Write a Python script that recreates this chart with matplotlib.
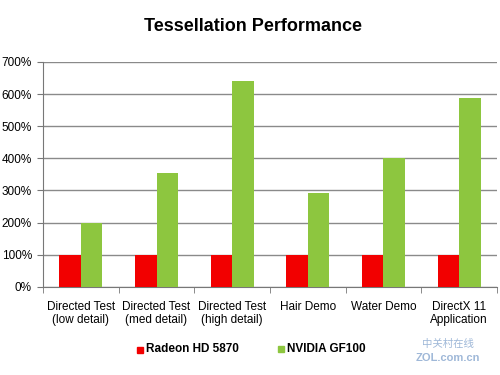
import numpy as np
import matplotlib

matplotlib.use("Agg")
import matplotlib.pyplot as plt

plt.rcParams["font.family"] = ["Liberation Sans", "DejaVu Sans"]

categories = ["Directed Test\n(low detail)", "Directed Test\n(med detail)",
              "Directed Test\n(high detail)", "Hair Demo", "Water Demo",
              "DirectX 11\nApplication"]
radeon = [100, 100, 100, 100, 100, 100]
nvidia = [200, 354, 641, 293, 400, 587]
yticks = [0, 100, 200, 300, 400, 500, 600, 700]

RED = "#f20000"
GREEN = "#8dc63f"

fig = plt.figure(figsize=(5.0, 3.75), dpi=100, facecolor="white")
ax = fig.add_axes([0.086, 0.235, 0.908, 0.6])

x = np.arange(len(categories))
w = 0.285
ax.bar(x - w / 2, radeon, w, color=RED, zorder=3, label="Radeon HD 5870")
ax.bar(x + w / 2, nvidia, w, color=GREEN, zorder=3, label="NVIDIA GF100")

ax.set_xlim(-0.5, len(categories) - 0.5)
ax.set_ylim(0, 700)
ax.set_yticks(yticks)
ax.set_yticklabels([f"{v}%" for v in yticks], fontsize=8.5)
ax.yaxis.grid(True, color="#8a8a8a", lw=1.0, zorder=0)
ax.set_axisbelow(True)

# category labels centered, tick marks at boundaries
ax.set_xticks(x)
ax.set_xticklabels(categories, fontsize=8.5, linespacing=1.15)
ax.tick_params(axis="x", length=0, pad=10)
ax.set_xticks(np.arange(len(categories) + 1) - 0.5, minor=True)
ax.tick_params(axis="x", which="minor", length=4, color="#777777", direction="out")
ax.tick_params(axis="y", length=4, color="#777777", pad=4)

for s in ("top", "right"):
    ax.spines[s].set_visible(False)
ax.spines["left"].set_color("#777777")
ax.spines["bottom"].set_color("#777777")

fig.text(0.505, 0.93, "Tessellation Performance", ha="center", va="center",
         fontsize=13, fontweight="bold")

# legend
fig.patches.append(plt.Rectangle((0.274, 0.060), 0.011, 0.015, color=RED,
                                 transform=fig.transFigure))
fig.text(0.293, 0.068, "Radeon HD 5870", fontsize=8.5, fontweight="bold",
         va="center")
fig.patches.append(plt.Rectangle((0.556, 0.062), 0.011, 0.015, color=GREEN,
                                 transform=fig.transFigure))
fig.text(0.574, 0.070, "NVIDIA GF100", fontsize=8.5, fontweight="bold",
         va="center")

# watermark
fig.text(0.895, 0.082, "中关村在线", fontsize=7.5, color="#9fb8d8", ha="center",
         va="center", family=["Noto Sans CJK SC", "DejaVu Sans"])
fig.text(0.895, 0.045, "ZOL.com.cn", fontsize=8, color="#9fb8d8", ha="center",
         va="center", fontweight="bold")

fig.savefig("out.png", dpi=100, facecolor="white")
